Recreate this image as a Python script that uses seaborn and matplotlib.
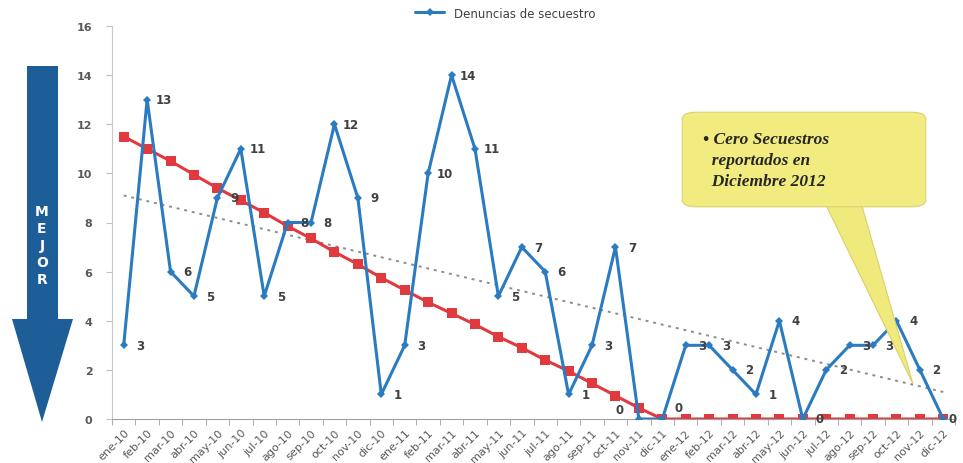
import numpy as np
import pandas as pd
import matplotlib
matplotlib.use("Agg")
import matplotlib.pyplot as plt
import matplotlib.patches as mpatches
import seaborn as sns

months = ["ene-10", "feb-10", "mar-10", "abr-10", "may-10", "jun-10", "jul-10", "ago-10",
          "sep-10", "oct-10", "nov-10", "dic-10", "ene-11", "feb-11", "mar-11", "abr-11",
          "may-11", "jun-11", "jul-11", "ago-11", "sep-11", "oct-11", "nov-11", "dic-11",
          "ene-12", "feb-12", "mar-12", "abr-12", "may-12", "jun-12", "jul-12", "ago-12",
          "sep-12", "oct-12", "nov-12", "dic-12"]
denuncias = [3, 13, 6, 5, 9, 11, 5, 8, 8, 12, 9, 1,
             3, 10, 14, 11, 5, 7, 6, 1, 3, 7, 0, 0,
             3, 3, 2, 1, 4, 0, 2, 3, 3, 4, 2, 0]
meta = [11.5, 11.0, 10.5, 9.95, 9.4, 8.9, 8.4, 7.85, 7.35, 6.8, 6.3, 5.75,
        5.25, 4.75, 4.3, 3.85, 3.35, 2.9, 2.4, 1.95, 1.45, 0.95, 0.45, 0.0,
        0, 0, 0, 0, 0, 0, 0, 0, 0, 0, 0, 0]
tendencia = [9.1, 1.1]  # endpoints of the linear trend line
y_ticks = [0, 2, 4, 6, 8, 10, 12, 14, 16]

BLUE = "#2a7bc0"
RED = "#e03a3e"
ARROW = "#1d5e99"

W, H = 963, 464


def px(x, y):
    # pixel coords (top-left origin) -> figure fraction
    return (x / W, 1 - y / H)


sns.set_style("white")
fig = plt.figure(figsize=(W / 100, H / 100), dpi=100)
ax = fig.add_axes([112 / W, 44 / H, (955 - 112) / W, (420 - 27) / H])

df = pd.DataFrame({"idx": np.arange(len(months)), "denuncias": denuncias, "meta": meta})

sns.lineplot(data=df, x="idx", y="meta", ax=ax, color=RED, lw=2.2, marker="s",
             markersize=6.5, markeredgewidth=0, zorder=2, legend=False)
sns.lineplot(x=[0, len(months) - 1], y=tendencia, ax=ax, color="#8c8c8c", lw=1.4,
             linestyle=(0, (1.5, 2.5)), zorder=1)
sns.lineplot(data=df, x="idx", y="denuncias", ax=ax, color=BLUE, lw=2.2, marker="D",
             markersize=4.5, markeredgewidth=0, zorder=3, label="Denuncias de secuestro",
             legend=False)

# data labels
nudge = {22: (-14, 7), 23: (12, 8), 35: (7, 0)}
for i, v in enumerate(denuncias):
    dx, dy = nudge.get(i, (12, 0))
    ax.annotate(str(v), (i, v), xytext=(dx, dy), textcoords="offset points",
                ha="center", va="center", fontsize=8.5, color="#404040",
                fontweight="bold", zorder=4, annotation_clip=False)

ax.set_xlim(-0.5, len(months) - 0.5)
ax.set_ylim(0, 16)
ax.set_yticks(y_ticks)
ax.set_yticklabels([str(t) for t in y_ticks], fontsize=8, color="#595959", fontweight="bold")
ax.set_xticks(np.arange(len(months)))
ax.set_xticklabels(months, rotation=45, ha="right", rotation_mode="anchor",
                   fontsize=8, color="#595959")
ax.set_xticks(np.arange(len(months) + 1) - 0.5, minor=True)
ax.tick_params(axis="x", which="major", length=0, pad=6)
ax.tick_params(axis="x", which="minor", length=4, color="#a0a0a0", bottom=True)
ax.tick_params(axis="y", length=4, color="#c0c0c0", left=True, pad=10)
ax.set_xlabel("")
ax.set_ylabel("")
for s in ["top", "right"]:
    ax.spines[s].set_visible(False)
ax.spines["left"].set_color("#c8c8c8")
ax.spines["bottom"].set_color("#a0a0a0")

handles, labels = ax.get_legend_handles_labels()
fig.legend(handles[-1:], labels[-1:], loc="center", bbox_to_anchor=px(505, 14),
           frameon=False, fontsize=8.5, handlelength=2.5, labelcolor="#404040")

# big arrow on the left
arrow = mpatches.Polygon([px(27, 67), px(58, 67), px(58, 320), px(73, 320),
                          px(42, 423), px(12, 320), px(27, 320)],
                         closed=True, transform=fig.transFigure, facecolor=ARROW,
                         edgecolor="none", zorder=5)
fig.patches.append(arrow)
for k, ch in enumerate("MEJOR"):
    fig.text(*px(42, 212 + k * 17), ch, ha="center", va="center", color="white",
             fontsize=10, fontweight="bold", zorder=6)

# callout
pointer = mpatches.Polygon([px(823, 200), px(860, 200), px(913, 385)], closed=True,
                           transform=fig.transFigure, facecolor="#f0ea7c",
                           edgecolor="#d8d070", lw=0.8, zorder=5)
fig.patches.append(pointer)
box = mpatches.FancyBboxPatch(px(688, 205), (920 - 688) / W, (205 - 116) / H,
                              boxstyle="round,pad=0.006,rounding_size=0.015",
                              transform=fig.transFigure, facecolor="#f2ec80",
                              edgecolor="#d8d070", lw=0.8, zorder=5)
fig.patches.append(box)
fig.text(*px(703, 161), "• Cero Secuestros\n  reportados en\n  Diciembre 2012",
         ha="left", va="center", family="Liberation Serif", fontsize=12.5,
         fontweight="bold", fontstyle="italic", color="#262626", linespacing=1.4,
         zorder=6)

fig.savefig("out.png", dpi=100)
